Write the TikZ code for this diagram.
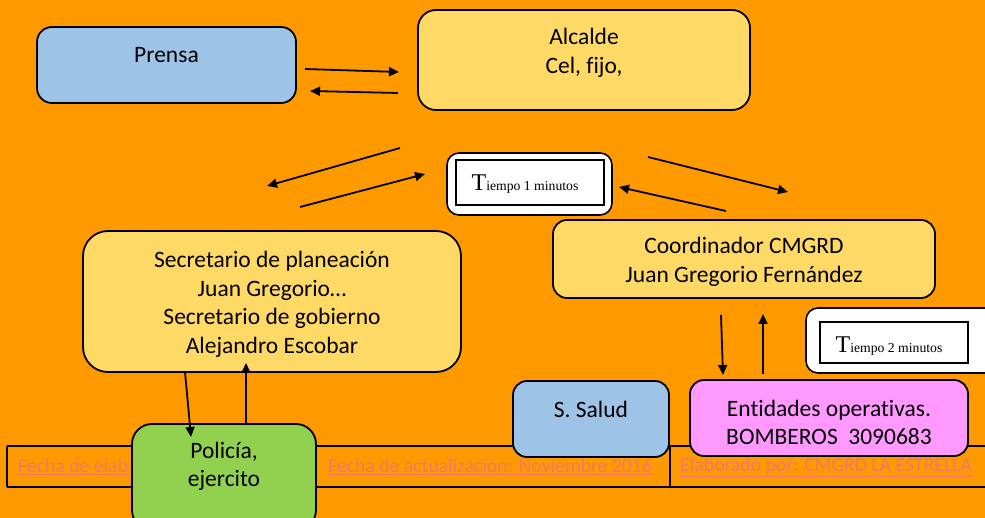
\documentclass[tikz,border=0pt]{standalone}
\usepackage{fontspec}
\setmainfont{Carlito}[Ligatures=NoCommon]
\newfontfamily\timesf{Liberation Serif}
\usetikzlibrary{arrows.meta}
\definecolor{bgor}{RGB}{255,153,0}
\definecolor{boxblue}{RGB}{157,195,230}
\definecolor{boxyellow}{RGB}{255,217,102}
\definecolor{boxgreen}{RGB}{146,208,80}
\definecolor{boxpink}{RGB}{255,153,255}
\definecolor{foottext}{RGB}{236,124,104}
\tikzset{
  box/.style={draw=black, line width=1.8pt, inner sep=0pt, rounded corners=#1},
  box/.default=15pt,
  txt/.style={inner sep=0pt, align=center, font=\fontsize{23.5}{28.5}\selectfont},
  ftxt/.style={inner sep=0pt, anchor=west, text=foottext, font=\fontsize{19.7}{22}\selectfont},
  tbox/.style={draw=black, line width=1.5pt, fill=white, inner sep=0pt},
  ttxt/.style={inner sep=0pt, font=\timesf},
  arr/.style={line width=1.8pt, -{Triangle[length=10pt,width=9pt]}},
  fline/.style={line width=1.2pt}
}
\newcommand{\tiempotxt}[1]{{\fontsize{24}{24}\selectfont T}{\fontsize{13.7}{14}\selectfont iempo #1 minutos}}
\begin{document}
\begin{tikzpicture}[x=1pt,y=-1pt]
\useasboundingbox (0,0) rectangle (985,518);
\clip (0,0) rectangle (985,518);
\fill[bgor] (0,0) rectangle (985,518);

% footer table
\coordinate (fTL) at (7,446);
\coordinate (fTR) at (985,446);
\coordinate (fBL) at (7,487);
\coordinate (fBR) at (985,487);
\coordinate (fD2t) at (670,446);
\coordinate (fD2b) at (670,487);
\draw[fline] (fTL) -- (fTR);
\draw[fline] (fBL) -- (fBR);
\draw[fline] (fTL) -- (fBL);
\draw[fline] (fD2t) -- (fD2b);
\node[ftxt] (f1) at (18,467) {\underline{Fecha de elab}};
\node[ftxt] (f2) at (328,467) {\underline{Fecha de actualización: Noviembre 2016}};
\node[ftxt] (f3) at (680,467) {\underline{Elaborado por: CMGRD LA ESTRELLA}};

% boxes
\node[box=15pt, fill=boxblue, minimum width=259pt, minimum height=76pt] (prensa) at (166.5,65) {};
\node[txt] (prensaT) at (166.5,55) {Prensa};

\node[box=18pt, fill=boxyellow, minimum width=332pt, minimum height=100pt] (alcalde) at (584,60) {};
\node[txt] (alcaldeT) at (584,53) {Alcalde\\Cel, fijo,};

\node[tbox, rounded corners=12pt, minimum width=165pt, minimum height=62pt, line width=1.6pt] (t1out) at (529.5,184) {};
\node[tbox, minimum width=148pt, minimum height=45pt] (t1in) at (530,182.5) {};
\node[ttxt] (t1T) at (525,184) {\tiempotxt{1}};

\node[box=25pt, fill=boxyellow, minimum width=378pt, minimum height=141pt] (secre) at (272,301.5) {};
\node[txt] (secreT) at (272,304.5) {Secretario de planeación\\Juan Gregorio…\\Secretario de gobierno\\Alejandro Escobar};

\node[box=14pt, fill=boxyellow, minimum width=382pt, minimum height=78pt] (coord) at (744,259) {};
\node[txt] (coordT) at (744,262) {Coordinador CMGRD\\Juan Gregorio Fernández};

\node[tbox, rounded corners=12pt, minimum width=194pt, minimum height=65pt, line width=1.6pt] (t2out) at (903,340.5) {};
\node[tbox, minimum width=148pt, minimum height=41pt] (t2in) at (894,342.5) {};
\node[ttxt] (t2T) at (889,346) {\tiempotxt{2}};

\node[box=14pt, fill=boxblue, minimum width=156pt, minimum height=76pt] (salud) at (591,419) {};
\node[txt] (saludT) at (591,409) {S. Salud};

\node[box=14pt, fill=boxpink, minimum width=278pt, minimum height=76pt] (entid) at (829,418) {};
\node[txt] (entidT) at (829,422.5) {Entidades operativas.\\BOMBEROS\ \ 3090683};

\node[box=20pt, fill=boxgreen, minimum width=184pt, minimum height=106pt] (policia) at (224,477) {};
\node[txt] (policiaT) at (224,466.5) {Policía,\\ejercito};

% arrows
\coordinate (a1s) at (305,69);  \coordinate (a1e) at (399,72);
\coordinate (a2s) at (398,93);  \coordinate (a2e) at (310,91);
\coordinate (a3s) at (400,148); \coordinate (a3e) at (267,186);
\coordinate (a4s) at (300,207); \coordinate (a4e) at (425,174);
\coordinate (a5s) at (648,157); \coordinate (a5e) at (788,192);
\coordinate (a6s) at (726,211); \coordinate (a6e) at (619,187);
\coordinate (a7s) at (721,315); \coordinate (a7e) at (723,375);
\coordinate (a8s) at (763,374); \coordinate (a8e) at (763,314);
\coordinate (a9s) at (185,372); \coordinate (a9e) at (191,437);
\coordinate (a10s) at (246,424); \coordinate (a10e) at (246,363);
\draw[arr] (a1s) -- (a1e);
\draw[arr] (a2s) -- (a2e);
\draw[arr] (a3s) -- (a3e);
\draw[arr] (a4s) -- (a4e);
\draw[arr] (a5s) -- (a5e);
\draw[arr] (a6s) -- (a6e);
\draw[arr] (a7s) -- (a7e);
\draw[arr] (a8s) -- (a8e);
\draw[arr] (a9s) -- (a9e);
\draw[arr] (a10s) -- (a10e);
\end{tikzpicture}
\end{document}
